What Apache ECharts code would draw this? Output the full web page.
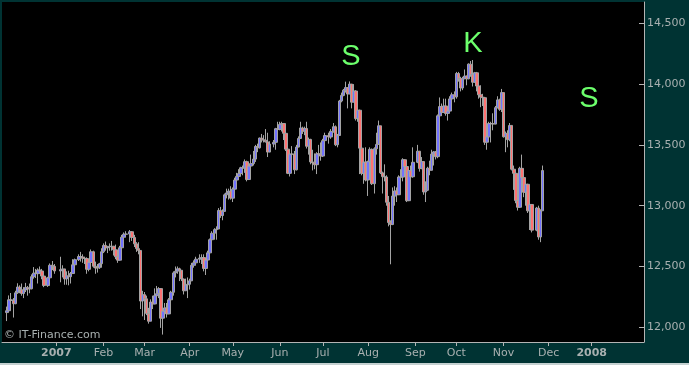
<!DOCTYPE html>
<html><head><meta charset="utf-8">
<script src="https://cdn.jsdelivr.net/npm/echarts@6/dist/echarts.min.js"></script>
<style>html,body{margin:0;padding:0;background:#003333;}#c{width:689px;height:365px;}</style>
</head><body><div id="c"></div>
<script>
const tradeDates = [
'2006-11-28','2006-11-29','2006-11-30',
'2006-12-01','2006-12-04','2006-12-05','2006-12-06','2006-12-07','2006-12-08','2006-12-11','2006-12-12','2006-12-13','2006-12-14','2006-12-15','2006-12-18','2006-12-19','2006-12-20','2006-12-21','2006-12-22','2006-12-26','2006-12-27','2006-12-28','2006-12-29',
'2007-01-03','2007-01-04','2007-01-05','2007-01-08','2007-01-09','2007-01-10','2007-01-11','2007-01-12','2007-01-16','2007-01-17','2007-01-18','2007-01-19','2007-01-22','2007-01-23','2007-01-24','2007-01-25','2007-01-26','2007-01-29','2007-01-30','2007-01-31',
'2007-02-01','2007-02-02','2007-02-05','2007-02-06','2007-02-07','2007-02-08','2007-02-09','2007-02-12','2007-02-13','2007-02-14','2007-02-15','2007-02-16','2007-02-20','2007-02-21','2007-02-22','2007-02-23','2007-02-26','2007-02-27','2007-02-28',
'2007-03-01','2007-03-02','2007-03-05','2007-03-06','2007-03-07','2007-03-08','2007-03-09','2007-03-12','2007-03-13','2007-03-14','2007-03-15','2007-03-16','2007-03-19','2007-03-20','2007-03-21','2007-03-22','2007-03-23','2007-03-26','2007-03-27','2007-03-28','2007-03-29','2007-03-30',
'2007-04-02','2007-04-03','2007-04-04','2007-04-05','2007-04-09','2007-04-10','2007-04-11','2007-04-12','2007-04-13','2007-04-16','2007-04-17','2007-04-18','2007-04-19','2007-04-20','2007-04-23','2007-04-24','2007-04-25','2007-04-26','2007-04-27','2007-04-30',
'2007-05-01','2007-05-02','2007-05-03','2007-05-04','2007-05-07','2007-05-08','2007-05-09','2007-05-10','2007-05-11','2007-05-14','2007-05-15','2007-05-16','2007-05-17','2007-05-18','2007-05-21','2007-05-22','2007-05-23','2007-05-24','2007-05-25','2007-05-29','2007-05-30','2007-05-31',
'2007-06-01','2007-06-04','2007-06-05','2007-06-06','2007-06-07','2007-06-08','2007-06-11','2007-06-12','2007-06-13','2007-06-14','2007-06-15','2007-06-18','2007-06-19','2007-06-20','2007-06-21','2007-06-22','2007-06-25','2007-06-26','2007-06-27','2007-06-28','2007-06-29',
'2007-07-02','2007-07-03','2007-07-05','2007-07-06','2007-07-09','2007-07-10','2007-07-11','2007-07-12','2007-07-13','2007-07-16','2007-07-17','2007-07-18','2007-07-19','2007-07-20','2007-07-23','2007-07-24','2007-07-25','2007-07-26','2007-07-27','2007-07-30','2007-07-31',
'2007-08-01','2007-08-02','2007-08-03','2007-08-06','2007-08-07','2007-08-08','2007-08-09','2007-08-10','2007-08-13','2007-08-14','2007-08-15','2007-08-16','2007-08-17','2007-08-20','2007-08-21','2007-08-22','2007-08-23','2007-08-24','2007-08-27','2007-08-28','2007-08-29','2007-08-30','2007-08-31',
'2007-09-04','2007-09-05','2007-09-06','2007-09-07','2007-09-10','2007-09-11','2007-09-12','2007-09-13','2007-09-14','2007-09-17','2007-09-18','2007-09-19','2007-09-20','2007-09-21','2007-09-24','2007-09-25','2007-09-26','2007-09-27','2007-09-28',
'2007-10-01','2007-10-02','2007-10-03','2007-10-04','2007-10-05','2007-10-08','2007-10-09','2007-10-10','2007-10-11','2007-10-12','2007-10-15','2007-10-16','2007-10-17','2007-10-18','2007-10-19','2007-10-22','2007-10-23','2007-10-24','2007-10-25','2007-10-26','2007-10-29','2007-10-30','2007-10-31',
'2007-11-01','2007-11-02','2007-11-05','2007-11-06','2007-11-07','2007-11-08','2007-11-09','2007-11-12','2007-11-13','2007-11-14','2007-11-15','2007-11-16','2007-11-19','2007-11-20','2007-11-21','2007-11-23','2007-11-26','2007-11-27','2007-11-28'
];
const openVals = [
12121,12136,12226,
12221,12194,12283,12331,12309,12278,12307,12328,12315,12317,12416,12445,12441,12471,12463,12421,12343,12407,12510,12501,
12463,12474,12480,12398,12423,12416,12442,12514,12556,12582,12577,12567,12565,12477,12533,12621,12502,12487,12490,12523,
12621,12673,12653,12661,12666,12666,12637,12580,12552,12654,12741,12765,12767,12786,12738,12686,12647,12632,12216,
12268,12234,12114,12050,12207,12192,12260,12276,12318,12075,12133,12159,12110,12226,12288,12447,12461,12481,12469,12397,12300,12348,
12354,12382,12510,12530,12560,12569,12573,12484,12553,12612,12720,12773,12803,12808,12961,12919,12953,13089,13105,13120,
13062,13136,13211,13241,13264,13312,13309,13362,13215,13326,13346,13383,13487,13476,13556,13542,13539,13525,13441,13507,13521,13633,
13627,13668,13676,13595,13465,13266,13424,13424,13295,13482,13553,13639,13612,13635,13489,13545,13360,13352,13337,13427,13422,
13408,13535,13577,13565,13611,13649,13501,13577,13861,13907,13950,13971,13918,14000,13851,13943,13716,13785,13473,13265,13358,
13211,13362,13463,13181,13468,13504,13657,13270,13239,13236,13028,12861,12845,13079,13121,13090,13236,13235,13378,13322,13041,13289,13238,
13357,13448,13305,13363,13113,13127,13308,13291,13424,13442,13403,13739,13815,13766,13820,13759,13778,13878,13912,
13895,14087,14047,13968,14044,14066,14043,14164,14078,14015,14093,13984,13912,13892,13888,13522,13566,13676,13675,13671,13806,13870,13792,
13930,13567,13595,13543,13660,13300,13266,13042,12987,13307,13231,13110,13176,12958,13010,12799,12980,12743,12958
];
const closeVals = [
12136,12226,12221,
12194,12283,12331,12309,12278,12307,12328,12315,12317,12416,12445,12441,12471,12463,12421,12343,12407,12510,12501,12463,
12474,12480,12398,12423,12416,12442,12514,12556,12582,12577,12567,12565,12477,12533,12621,12502,12487,12490,12523,12621,
12673,12653,12661,12666,12666,12637,12580,12552,12654,12741,12765,12767,12786,12738,12686,12647,12632,12216,12268,
12234,12114,12050,12207,12192,12260,12276,12318,12075,12133,12159,12110,12226,12288,12447,12461,12481,12469,12397,12300,12348,12354,
12382,12510,12530,12560,12569,12573,12484,12553,12612,12720,12773,12803,12808,12961,12919,12953,13089,13105,13120,13062,
13136,13211,13241,13264,13312,13309,13362,13215,13326,13346,13383,13487,13476,13556,13542,13539,13525,13441,13507,13521,13633,13627,
13668,13676,13595,13465,13266,13424,13424,13295,13482,13553,13639,13612,13635,13489,13545,13360,13352,13337,13427,13422,13408,
13535,13577,13565,13611,13649,13501,13577,13861,13907,13950,13971,13918,14000,13851,13943,13716,13785,13473,13265,13358,13211,
13362,13463,13181,13468,13504,13657,13270,13239,13236,13028,12861,12845,13079,13121,13090,13236,13235,13378,13322,13041,13289,13238,13357,
13448,13305,13363,13113,13127,13308,13291,13424,13442,13403,13739,13815,13766,13820,13759,13778,13878,13912,13895,
14087,14047,13968,14044,14066,14043,14164,14078,14015,14093,13984,13912,13892,13888,13522,13566,13676,13675,13671,13806,13870,13792,13930,
13567,13595,13543,13660,13300,13266,13042,12987,13307,13231,13110,13176,12958,13010,12799,12980,12743,12958,13289
];
const lowVals = [
12051,12130,12150,
12080,12190,12275,12280,12260,12240,12290,12260,12280,12312,12400,12405,12360,12440,12395,12330,12332,12405,12470,12440,
12370,12410,12350,12350,12345,12360,12440,12500,12545,12540,12530,12520,12440,12460,12530,12490,12440,12450,12480,12490,
12610,12630,12610,12630,12630,12590,12560,12530,12550,12650,12720,12740,12700,12710,12660,12620,12600,12150,12090,
12060,12100,12030,12050,12150,12190,12230,12240,11995,11940,12100,12080,12110,12210,12260,12410,12440,12380,12380,12270,12300,12240,
12310,12380,12490,12510,12530,12520,12460,12430,12530,12610,12710,12720,12720,12808,12900,12880,12950,13060,13050,13050,
13030,13130,13190,13220,13260,13250,13270,13200,13215,13290,13330,13360,13440,13470,13520,13520,13520,13400,13440,13480,13460,13610,
13620,13610,13540,13450,13260,13240,13390,13260,13290,13480,13550,13590,13580,13470,13420,13340,13290,13300,13260,13380,13370,
13400,13530,13510,13550,13600,13490,13480,13577,13850,13900,13930,13800,13918,13800,13850,13700,13690,13260,13250,13180,13200,
13080,13320,13170,13100,13420,13500,13260,13100,13200,13000,12830,12518,12840,13000,13030,13090,13170,13200,13300,13030,13040,13140,13230,
13350,13280,13300,13090,13030,13120,13250,13290,13330,13380,13390,13730,13740,13770,13740,13700,13770,13870,13850,
13880,14020,13940,13950,14040,13990,14040,14060,13980,14010,13940,13880,13810,13820,13500,13460,13560,13520,13620,13670,13800,13780,13770,
13560,13440,13480,13530,13290,13130,13020,12960,12985,13190,13070,13000,12940,12800,12780,12790,12720,12700,12958
];
const highVals = [
12170,12262,12282,
12240,12300,12362,12345,12360,12330,12365,12340,12360,12435,12495,12480,12485,12500,12480,12440,12415,12525,12545,12520,
12580,12510,12480,12460,12465,12455,12560,12565,12600,12620,12600,12580,12575,12560,12640,12630,12540,12520,12530,12650,
12690,12705,12670,12690,12710,12670,12680,12590,12670,12760,12780,12790,12800,12790,12760,12700,12700,12632,12300,
12290,12260,12160,12230,12260,12320,12340,12330,12320,12175,12200,12200,12240,12300,12460,12500,12500,12490,12470,12400,12400,12410,
12400,12530,12550,12580,12600,12600,12600,12570,12630,12730,12790,12815,12830,12980,12990,12970,13100,13140,13140,13160,
13150,13230,13270,13300,13320,13330,13380,13370,13340,13420,13450,13500,13510,13560,13590,13580,13630,13600,13530,13540,13640,13690,
13690,13690,13680,13600,13470,13430,13490,13450,13500,13570,13690,13650,13650,13690,13560,13550,13460,13430,13440,13500,13520,
13550,13600,13600,13630,13680,13660,13590,13870,13930,13960,14020,13975,14022,14000,14000,13950,13870,13790,13500,13400,13480,
13370,13480,13470,13480,13600,13700,13657,13280,13340,13250,13080,12880,13150,13160,13150,13250,13300,13390,13380,13320,13300,13330,13480,
13500,13450,13400,13360,13200,13320,13370,13460,13450,13450,13750,13890,13840,13880,13880,13790,13900,13930,13940,
14100,14100,14060,14060,14120,14070,14170,14190,14198,14100,14100,13990,13990,13920,13890,13590,13690,13690,13760,13820,13900,13880,13960,
13930,13610,13620,13680,13660,13330,13270,13130,13320,13420,13260,13190,13180,13080,13010,12990,13000,12970,13330
];
const tickDates = ['2007-01-01','2007-02-01','2007-03-01','2007-04-02','2007-05-01','2007-06-01','2007-07-02','2007-08-01','2007-09-03','2007-10-01','2007-11-01','2007-12-03','2008-01-01'];
const tickLabels = ['2007','Feb','Mar','Apr','May','Jun','Jul','Aug','Sep','Oct','Nov','Dec','2008'];
const yTicks = [12000,12500,13000,13500,14000,14500];
const notes = [
  {text:'S', x:351, y:57},
  {text:'K', x:473, y:44},
  {text:'S', x:589, y:99}
];

[openVals, closeVals, lowVals, highVals].forEach(a => {
  if (a.length !== tradeDates.length) throw new Error('length mismatch ' + a.length + ' vs ' + tradeDates.length);
});

// weekday category axis (holidays kept as empty slots)
const categories = [];
for (let t = Date.UTC(2006, 10, 24); categories.length < 313; t += 86400000) {
  const wd = new Date(t).getUTCDay();
  if (wd !== 0 && wd !== 6) categories.push(new Date(t).toISOString().slice(0, 10));
}
const pos = {};
tradeDates.forEach((d, i) => { pos[d] = i; });
const candles = categories.map(d => d in pos
  ? [openVals[pos[d]], closeVals[pos[d]], lowVals[pos[d]], highVals[pos[d]]] : '-');

const txt = '#a8b0b0';
const axisCol = '#b4b4b4';
const isTick = (i, v) => tickDates.indexOf(v) >= 0;

const chart = echarts.init(document.getElementById('c'), null, {renderer: 'canvas'});
chart.setOption({
  animation: false,
  backgroundColor: '#003333',
  grid: {left: 2, top: 2, right: 45, bottom: 23, show: true, backgroundColor: '#000000', borderWidth: 0},
  xAxis: {
    type: 'category', data: categories, boundaryGap: true,
    axisLine: {show: true, lineStyle: {color: axisCol, width: 1}},
    axisTick: {show: true, alignWithLabel: true, interval: isTick, length: 4, lineStyle: {color: axisCol}},
    axisLabel: {
      interval: isTick, margin: 6, color: txt, fontFamily: 'DejaVu Sans', fontSize: 11,
      formatter: v => {
        const s = tickLabels[tickDates.indexOf(v)];
        return /^\d{4}$/.test(s) ? '{b|' + s + '}' : s;
      },
      rich: {b: {fontWeight: 'bold', color: txt, fontFamily: 'DejaVu Sans', fontSize: 11}}
    },
    splitLine: {show: false}
  },
  yAxis: {
    type: 'value', position: 'right', min: 11879, max: 14675,
    axisLine: {show: true, lineStyle: {color: axisCol, width: 1}},
    axisTick: {show: true, inside: true, length: 5, customValues: yTicks, lineStyle: {color: axisCol}},
    axisLabel: {customValues: yTicks, margin: 3, color: txt, fontFamily: 'DejaVu Sans', fontSize: 11,
      formatter: v => Number(v).toLocaleString('en-US')},
    splitLine: {show: false}
  },
  series: [{
    type: 'candlestick',
    data: candles,
    barWidth: 3,
    itemStyle: {
      color: '#7272ff', color0: '#ff7272',
      borderColor: '#a4a4a4', borderColor0: '#a4a4a4', borderColorDoji: '#a4a4a4',
      borderWidth: 1
    }
  }],
  graphic: [
    ...notes.map(n => ({type: 'text', z: 100, style: {text: n.text, x: n.x, y: n.y, align: 'center', verticalAlign: 'middle',
      font: '29px "Liberation Sans"', fill: '#6cff6c'}})),
    {type: 'text', z: 100, style: {text: '\u00a9 IT-Finance.com', x: 4, y: 335, verticalAlign: 'middle',
      font: '11px "DejaVu Sans"', fill: txt}},
    {type: 'rect', z: 100, shape: {x: 0, y: 363, width: 689, height: 2}, style: {fill: '#c4d0d0'}}
  ]
});
</script>
</body></html>
